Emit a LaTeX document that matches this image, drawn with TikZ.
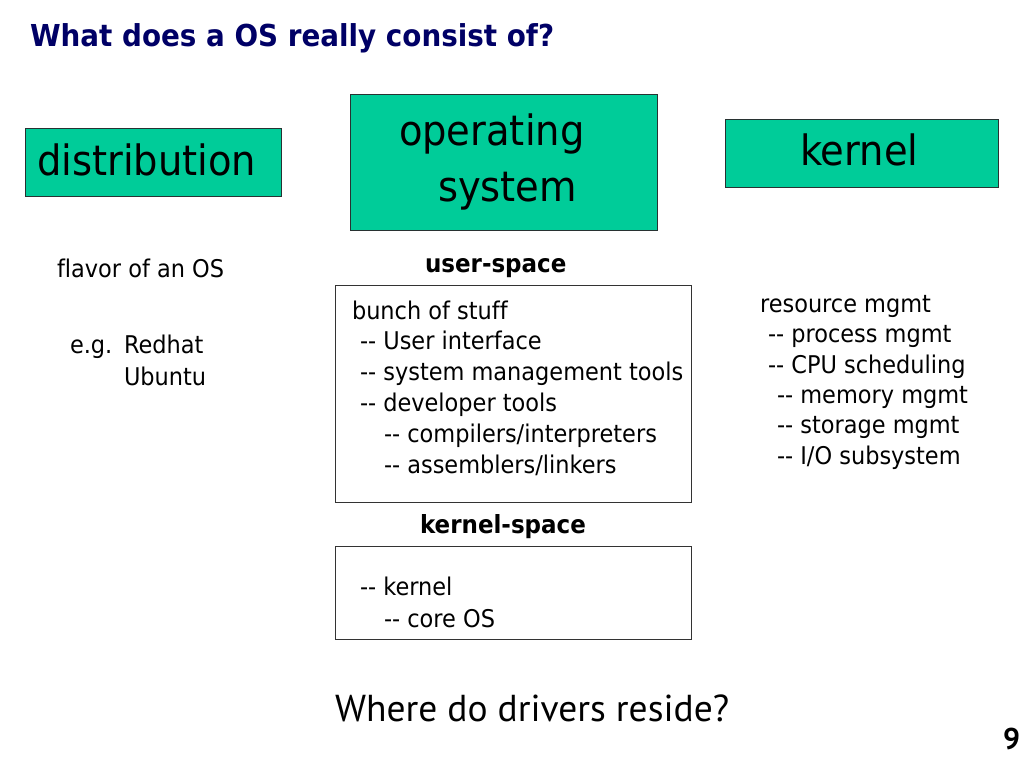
\documentclass[tikz,border=0pt]{standalone}
\usepackage{fontspec}
\setmainfont[FakeStretch=0.92, Ligatures=NoCommon]{DejaVu Sans}
\newfontfamily\ptsans{PT Sans}
\definecolor{teal1}{RGB}{0,204,153}
\definecolor{navy1}{RGB}{0,0,102}
\definecolor{edge1}{RGB}{40,50,50}
\newcommand\dsh{\mbox{-}\mbox{-}}
\tikzset{
  txt/.style={anchor=base west, inner sep=0pt, outer sep=0pt},
  body/.style={txt, font=\fontsize{24.4}{30}\selectfont},
  bodyb/.style={txt, font=\fontsize{25}{30}\selectfont\bfseries},
  big/.style={txt, font=\fontsize{41.8}{50}\selectfont},
  tealbox/.style={draw=edge1, line width=1.2pt, fill=teal1, anchor=north west, inner sep=0pt},
  whitebox/.style={draw=black!80, line width=1pt, anchor=north west, inner sep=0pt},
}
\begin{document}
\begin{tikzpicture}[x=1pt,y=-1pt]
\useasboundingbox[fill=white] (0,0) rectangle (1024,768);
% title
\node[txt, font=\fontsize{30.2}{36}\selectfont\bfseries, text=navy1] (title) at (30,47) {What does a OS really consist of?};
% teal boxes
\node[tealbox, minimum width=256pt, minimum height=68pt] (distbox) at (25,128) {};
\node[big] (dist) at (37,175) {distribution};
\node[tealbox, minimum width=307pt, minimum height=136pt] (osbox) at (350,94) {};
\node[big] (os1) at (399,145) {operating};
\node[big] (os2) at (438,201) {system};
\node[tealbox, minimum width=273pt, minimum height=68pt] (kbox) at (725,119) {};
\node[big] (kern) at (800,165) {kernel};
% left column
\node[body] (flavor) at (57,277) {flavor of an OS};
\node[body] (eg) at (70,353) {e.g.};
\node[body] (redhat) at (124,353) {Redhat};
\node[body] (ubuntu) at (124,385) {Ubuntu};
% middle column
\node[bodyb] (us) at (425,272) {user-space};
\node[whitebox, minimum width=356pt, minimum height=217pt] (ubox) at (335,285) {};
\node[body] (u1) at (352,319) {bunch of stuff};
\node[body] (u2) at (360,349) {\dsh{} User interface};
\node[body] (u3) at (360,380) {\dsh{} system management tools};
\node[body] (u4) at (360,411) {\dsh{} developer tools};
\node[body] (u5) at (384,442) {\dsh{} compilers/interpreters};
\node[body] (u6) at (384,473) {\dsh{} assemblers/linkers};
\node[bodyb] (ks) at (420,533) {kernel-space};
\node[whitebox, minimum width=356pt, minimum height=93pt] (kbox2) at (335,546) {};
\node[body] (k1) at (360,595) {\dsh{} kernel};
\node[body] (k2) at (384,627) {\dsh{} core OS};
% right column
\node[body] (r1) at (760,312) {resource mgmt};
\node[body] (r2) at (768,342) {\dsh{} process mgmt};
\node[body] (r3) at (768,373) {\dsh{} CPU scheduling};
\node[body] (r4) at (777,403) {\dsh{} memory mgmt};
\node[body] (r5) at (777,433) {\dsh{} storage mgmt};
\node[body] (r6) at (777,464) {\dsh{} I/O subsystem};
% bottom
\node[txt, font=\fontsize{37.5}{42}\ptsans] (where) at (335,721) {Where do drivers reside?};
\node[txt, font=\fontsize{30}{34}\ptsans\bfseries] (pg) at (1003,749) {9};
\end{tikzpicture}
\end{document}
